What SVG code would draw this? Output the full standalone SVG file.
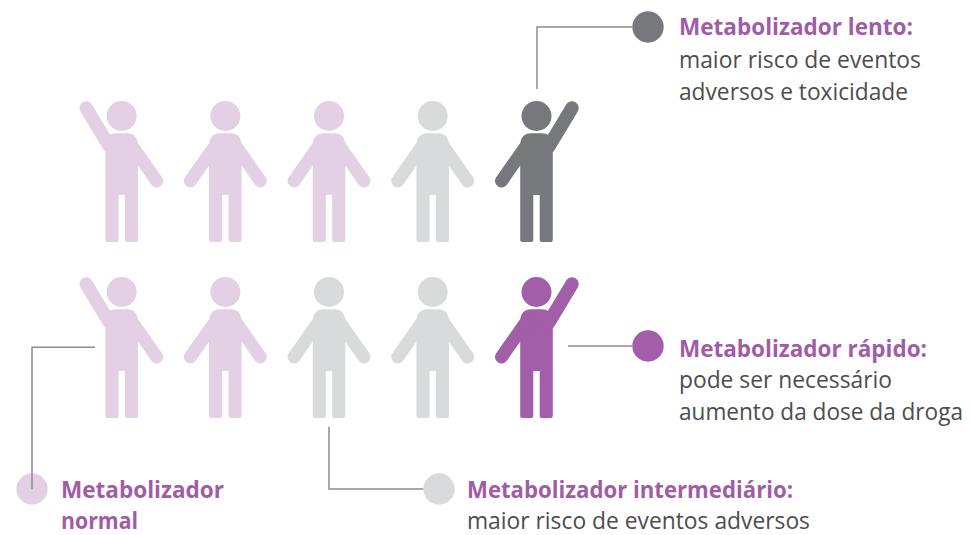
<svg xmlns="http://www.w3.org/2000/svg" xmlns:xlink="http://www.w3.org/1999/xlink" width="971" height="535" viewBox="0 0 971 535">
<style>
.t{font-family:"Open Sans","Liberation Sans",sans-serif;font-size:23px;fill:#A05CA7;font-weight:700}
.b{font-family:"Open Sans","Liberation Sans",sans-serif;font-size:23px;fill:#4D4D4F;font-weight:400}
.c{fill:none;stroke:#8C8C8E;stroke-width:1.5}
.lp{color:#E3D0E4}
.lg{color:#D9DADB}
.dg{color:#77787B}
.pu{color:#A25EA8}
</style>
<defs>
<g id="body">
<circle cx="0" cy="0" r="15" fill="currentColor"/>
<path fill="currentColor" d="M -16.3 30 Q -16.3 17.3 -5 17.3 H 5 Q 16.3 17.3 16.3 30 V 124 Q 16.3 126 14.3 126 H 5.2 Q 3.2 126 3.2 124 V 79 H -3.2 V 124 Q -3.2 126 -5.2 126 H -14.3 Q -16.3 126 -16.3 124 Z"/>
</g>
<g id="stand">
<use href="#body"/>
<path fill="none" stroke="currentColor" stroke-width="13" stroke-linecap="round" d="M -9 28 L -35 65 M 9 28 L 35 65"/>
</g>
<g id="raise">
<use href="#body"/>
<path fill="none" stroke="currentColor" stroke-width="13.5" stroke-linecap="round" d="M -12 31 L -35.5 -8"/>
<path fill="none" stroke="currentColor" stroke-width="13" stroke-linecap="round" d="M 9 28 L 35 65"/>
</g>
</defs>

<g id="row1">
<use id="p1a" href="#raise" class="lp" transform="translate(121.7,116)"/>
<use id="p1b" href="#stand" class="lp" transform="translate(225.3,116)"/>
<use id="p1c" href="#stand" class="lp" transform="translate(329,116)"/>
<use id="p1d" href="#stand" class="lg" transform="translate(432.7,116)"/>
<use id="p1e" href="#raise" class="dg" transform="translate(536.5,116) scale(-1,1)"/>
</g>
<g id="row2">
<use id="p2a" href="#raise" class="lp" transform="translate(121.7,292)"/>
<use id="p2b" href="#stand" class="lp" transform="translate(225.3,292)"/>
<use id="p2c" href="#stand" class="lg" transform="translate(329,292)"/>
<use id="p2d" href="#stand" class="lg" transform="translate(432.7,292)"/>
<use id="p2e" href="#raise" class="pu" transform="translate(536.5,292) scale(-1,1)"/>
</g>

<g id="lento">
<circle cx="648" cy="27" r="15.7" fill="#77787B"/>
<text class="t" x="679" y="35" textLength="234" lengthAdjust="spacingAndGlyphs">Metabolizador lento:</text>
<text class="b" x="679" y="68" textLength="242" lengthAdjust="spacingAndGlyphs">maior risco de eventos</text>
<text class="b" x="679" y="100" textLength="229" lengthAdjust="spacingAndGlyphs">adversos e toxicidade</text>
</g>
<g id="rapido">
<circle cx="648" cy="346" r="15.7" fill="#A25EA8"/>
<text class="t" x="679" y="357" textLength="248" lengthAdjust="spacingAndGlyphs">Metabolizador rápido:</text>
<text class="b" x="679" y="388" textLength="213" lengthAdjust="spacingAndGlyphs">pode ser necessário</text>
<text class="b" x="679" y="420" textLength="284" lengthAdjust="spacingAndGlyphs">aumento da dose da droga</text>
</g>
<g id="normal">
<circle cx="32" cy="489" r="15.7" fill="#E3D0E4"/>
<text class="t" x="61" y="498" textLength="163" lengthAdjust="spacingAndGlyphs">Metabolizador</text>
<text class="t" x="61" y="529" textLength="77" lengthAdjust="spacingAndGlyphs">normal</text>
</g>
<g id="intermediario">
<circle cx="439" cy="489" r="15.7" fill="#D9DADB"/>
<text class="t" x="467" y="498" textLength="326" lengthAdjust="spacingAndGlyphs">Metabolizador intermediário:</text>
<text class="b" x="467" y="529" textLength="343" lengthAdjust="spacingAndGlyphs">maior risco de eventos adversos</text>
</g>

<g id="connectors">
<path class="c" d="M 537 89 V 27 H 632.3"/>
<path class="c" d="M 568 346 H 632.3"/>
<path class="c" d="M 95 347.3 H 32 V 489"/>
<path class="c" d="M 329 426.7 V 489 H 423.3"/>
</g>
</svg>
